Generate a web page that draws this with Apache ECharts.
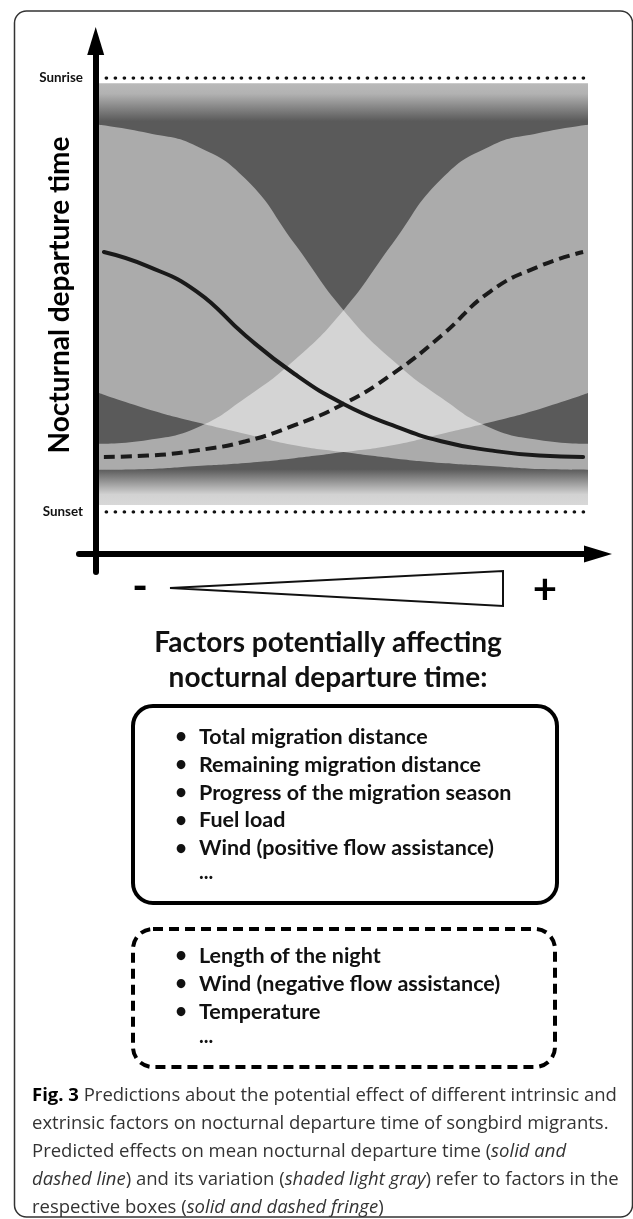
<!DOCTYPE html>
<html>
<head>
<meta charset="utf-8">
<script src="https://cdn.jsdelivr.net/npm/echarts@6/dist/echarts.min.js"></script>
<style>
  html, body { margin: 0; padding: 0; background: #fff; }
  #chart { width: 633px; height: 1219px; }
</style>
</head>
<body>
<div id="chart"></div>
<script>
// factor strength, "-" (0) to "+" (10)
const xs = ['0', '1', '2', '3', '4', '5', '6', '7', '8', '9', '10'];
const lineX = [0.1, 1, 2, 3, 4, 5, 6, 7, 8, 9, 9.9];

// departure time, sunset = 0, sunrise = 100
const yTicks = [0, 100];
const yTickLabels = ['Sunset', 'Sunrise'];
const nightTop = 98.8;
const nightBottom = 1.6;

// variation bands (shaded light gray)
const solidUpper = [89.2, 87.3, 84.3, 76.7, 61.8, 46.5, 35.0, 26.3, 19.4, 16.6, 15.7];
const solidLower = [27.4, 23.7, 20.7, 18.0, 15.4, 13.8, 12.4, 11.3, 10.6, 9.9, 9.7];
const dashedUpper = [15.7, 16.6, 19.4, 26.3, 35.0, 46.5, 61.8, 76.7, 84.3, 87.3, 89.2];
const dashedLower = [9.7, 9.9, 10.6, 11.3, 12.4, 13.8, 15.4, 18.0, 20.7, 23.7, 27.4];

// mean departure time
const solidMean = [59.9, 56.6, 50.8, 40.6, 31.8, 24.9, 20.0, 16.3, 14.2, 13.0, 12.7];
const dashedMean = [12.7, 13.0, 14.2, 16.3, 20.0, 24.9, 31.8, 40.6, 50.8, 56.6, 59.9];

const solidFactors = [
  'Total migration distance',
  'Remaining migration distance',
  'Progress of the migration season',
  'Fuel load',
  'Wind (positive flow assistance)',
  '...'
];
const dashedFactors = [
  'Length of the night',
  'Wind (negative flow assistance)',
  'Temperature',
  '...'
];
const captionLines = [
  '{b|Fig. 3} Predictions about the potential effect of different intrinsic and',
  'extrinsic factors on nocturnal departure time of songbird migrants.',
  'Predicted effects on mean nocturnal departure time ({i|solid and}',
  '{i|dashed line}) and its variation ({i|shaded light gray}) refer to factors in the',
  'respective boxes ({i|solid and dashed fringe})'
];

const pairs = (x, y) => x.map((v, i) => [v, y[i]]);
const diff = (up, lo) => up.map((v, i) => +(v - lo[i]).toFixed(2));

const bandFill = 'rgba(255,255,255,0.49)';
const boldFont = 'Lato, "Open Sans", sans-serif';
const capFont = '"Open Sans", sans-serif';

const hidden = { opacity: 0 };
const dotted = { color: '#111', width: 3.6, type: [0.1, 8.9], cap: 'round' };

function bandSeries(name, lower, upper) {
  return [
    {
      name: name + 'Base', type: 'line', stack: name, smooth: true, symbol: 'none', z: 2,
      lineStyle: hidden, data: lower
    },
    {
      name: name, type: 'line', stack: name, smooth: true, symbol: 'none', z: 2,
      lineStyle: hidden, areaStyle: { color: bandFill, opacity: 1 },
      data: diff(upper, lower)
    }
  ];
}

// box contents
let graphic = [];
function listText(items, yStart, step) {
  items.forEach((t, i) => {
    let y = yStart + i * step;
    if (t === '...') {
      graphic.push({ type: 'text', x: 199, y: y - 3, style: { text: t, font: 'bold 20px ' + boldFont, fill: '#111', verticalAlign: 'middle' } });
      return;
    }
    graphic.push({ type: 'text', x: 181, y: y, style: { text: '\u2022', font: 'bold 20px ' + boldFont, fill: '#111', align: 'center', verticalAlign: 'middle' } });
    graphic.push({ type: 'text', x: 199, y: y, style: { text: t, font: 'bold 21.5px ' + boldFont, fill: '#111', verticalAlign: 'middle' } });
  });
}
listText(solidFactors, 737, 27.8);
listText(dashedFactors, 956, 28);

graphic.push(
  // outer frame
  { type: 'rect', shape: { x: 14.5, y: 11, width: 618, height: 1206, r: 12 }, style: { fill: 'none', stroke: '#333', lineWidth: 1.5 } },
  // factor direction wedge
  { type: 'text', x: 140, y: 587, style: { text: '-', font: 'bold 42px ' + boldFont, fill: '#000', align: 'center', verticalAlign: 'middle' } },
  { type: 'polygon', shape: { points: [[170, 588], [503, 571], [503, 606]] }, style: { fill: '#fff', stroke: '#111', lineWidth: 2 } },
  { type: 'text', x: 545, y: 590, style: { text: '+', font: 'bold 42px ' + boldFont, fill: '#000', align: 'center', verticalAlign: 'middle' } },
  // heading
  { type: 'text', x: 328, y: 643, style: { text: 'Factors potentially affecting', font: 'bold 28px ' + boldFont, fill: '#111', align: 'center', verticalAlign: 'middle' } },
  { type: 'text', x: 328, y: 678, style: { text: 'nocturnal departure time:', font: 'bold 28px ' + boldFont, fill: '#111', align: 'center', verticalAlign: 'middle' } },
  // boxes
  { type: 'rect', shape: { x: 133, y: 706, width: 424, height: 197, r: 20 }, style: { fill: 'none', stroke: '#000', lineWidth: 4 } },
  { type: 'rect', shape: { x: 133, y: 929, width: 422, height: 138, r: 20 }, style: { fill: 'none', stroke: '#000', lineWidth: 4, lineDash: [10, 6] } }
);

captionLines.forEach((t, i) => {
  graphic.push({
    type: 'text', x: 32, y: 1096 + i * 28,
    style: {
      text: t, font: '18.5px ' + capFont, fill: '#333', verticalAlign: 'middle',
      rich: {
        b: { fontWeight: 'bold', fontSize: 18.5, fontFamily: 'Open Sans', fill: '#000' },
        i: { fontStyle: 'italic', fontSize: 18.5, fontFamily: 'Open Sans', fill: '#333' }
      }
    }
  });
});

const option = {
  animation: false,
  grid: [
    { left: 99, right: 45, top: 78, bottom: 707 },
    { left: 79, right: 35, top: 41, bottom: 647 }
  ],
  xAxis: [
    { gridIndex: 0, type: 'category', data: xs, boundaryGap: false, show: false },
    {
      gridIndex: 1, type: 'value', min: 0, max: 1, offset: -18,
      axisLine: { onZero: false, symbol: ['none', 'triangle'], symbolSize: [17, 28], lineStyle: { color: '#000', width: 6 } },
      axisTick: { show: false }, axisLabel: { show: false }, splitLine: { show: false }
    },
    { gridIndex: 0, type: 'value', min: 0, max: 10, show: false }
  ],
  yAxis: [
    {
      gridIndex: 0, type: 'value', min: 0, max: 100, interval: 100,
      axisLine: { show: false }, axisTick: { show: false }, splitLine: { show: false },
      axisLabel: {
        margin: 16, color: '#111', fontFamily: boldFont, fontWeight: 'bold', fontSize: 13.4,
        formatter: v => yTickLabels[yTicks.indexOf(v)]
      },
      name: 'Nocturnal departure time', nameLocation: 'middle', nameRotate: 90, nameGap: 25,
      nameMoveOverlap: false,
      nameTextStyle: { color: '#000', fontFamily: boldFont, fontWeight: 'bold', fontSize: 28 }
    },
    {
      gridIndex: 1, type: 'value', min: 0, max: 1, offset: -16.7,
      axisLine: { onZero: false, symbol: ['none', 'triangle'], symbolSize: [17, 28], lineStyle: { color: '#000', width: 6 } },
      axisTick: { show: false }, axisLabel: { show: false }, splitLine: { show: false }
    }
  ],
  series: [
    {
      name: 'night', type: 'line', xAxisIndex: 2, symbol: 'none', z: 1, lineStyle: hidden,
      data: pairs([0, 10], [nightBottom, nightBottom]),
      markArea: {
        silent: true,
        itemStyle: {
          color: {
            type: 'linear', x: 0, y: 0, x2: 0, y2: 1,
            colorStops: [
              { offset: 0, color: '#b9b9b9' },
              { offset: 0.025, color: '#b2b2b2' },
              { offset: 0.09, color: '#5a5a5a' },
              { offset: 0.915, color: '#5a5a5a' },
              { offset: 0.975, color: '#d2d2d2' },
              { offset: 1, color: '#d8d8d8' }
            ]
          }
        },
        data: [[{ coord: [0, nightTop] }, { coord: [10, nightBottom] }]]
      }
    },
    ...bandSeries('solidBand', solidLower, solidUpper),
    ...bandSeries('dashedBand', dashedLower, dashedUpper),
    {
      name: 'sunrise', type: 'line', xAxisIndex: 2, symbol: 'none', z: 3, lineStyle: dotted,
      data: pairs([0.15, 10], [100, 100])
    },
    {
      name: 'sunset', type: 'line', xAxisIndex: 2, symbol: 'none', z: 3, lineStyle: dotted,
      data: pairs([0.15, 10], [0, 0])
    },
    {
      name: 'solidMean', type: 'line', xAxisIndex: 2, smooth: true, symbol: 'none', z: 4,
      lineStyle: { color: '#1a1a1a', width: 4, cap: 'round' },
      data: pairs(lineX, solidMean)
    },
    {
      name: 'dashedMean', type: 'line', xAxisIndex: 2, smooth: true, symbol: 'none', z: 4,
      lineStyle: { color: '#1a1a1a', width: 4, type: [11, 6] },
      data: pairs(lineX, dashedMean)
    }
  ],
  graphic: graphic
};

const chart = echarts.init(document.getElementById('chart'));
chart.setOption(option);
</script>
</body>
</html>
